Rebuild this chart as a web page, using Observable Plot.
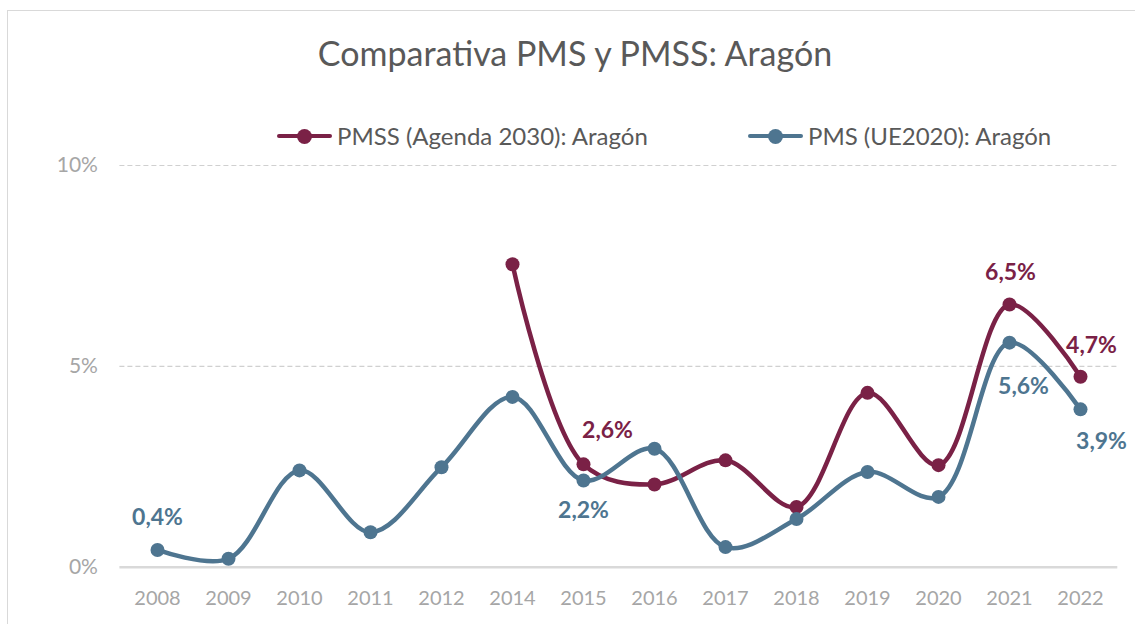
<!DOCTYPE html>
<html>
<head>
<meta charset="utf-8">
<script src="https://cdn.jsdelivr.net/npm/d3@7"></script>
<script src="https://cdn.jsdelivr.net/npm/@observablehq/plot@0.6"></script>
<style>
  html, body { margin: 0; padding: 0; background: #fff; }
  #wrap { position: relative; width: 1135px; height: 624px; overflow: hidden; font-family: Lato, "Open Sans", sans-serif; }
  #frame { position: absolute; left: 7px; top: 10px; width: 1300px; height: 800px; border-top: 1.5px solid #d9d9d9; border-left: 1.5px solid #d9d9d9; box-sizing: border-box; }
  #title { position: absolute; left: 575px; top: 33px; transform: translateX(-50%); font-size: 34px; line-height: 1.2; color: #595959; white-space: nowrap; }
  .leg { position: absolute; top: 121px; display: flex; align-items: flex-start; font-size: 24px; line-height: 29px; color: #595959; white-space: nowrap; }
  .sw { position: relative; width: 55px; height: 29px; margin-right: 5px; }
  .sw .ln { position: absolute; left: 0; right: 0; top: 12.5px; height: 4.5px; border-radius: 2px; }
  .sw .dt { position: absolute; left: 20px; top: 7.5px; width: 15px; height: 15px; border-radius: 50%; }
  #plot { position: absolute; left: 0; top: 0; }
</style>
</head>
<body>
<div id="wrap">
  <div id="frame"></div>
  <div id="plot"></div>
  <div id="title"></div>
  <div id="legend"></div>
</div>
<script>
// ---- data ----
const years = ["2008","2009","2010","2011","2012","2014","2015","2016","2017","2018","2019","2020","2021","2022"];
const pmsValues  = [0.43, 0.21, 2.41, 0.87, 2.49, 4.24, 2.16, 2.95, 0.50, 1.20, 2.37, 1.75, 5.59, 3.93];
const pmssValues = [null, null, null, null, null, 7.54, 2.56, 2.06, 2.66, 1.50, 4.34, 2.54, 6.54, 4.74];
const seriesNames = ["PMSS (Agenda 2030): Aragón", "PMS (UE2020): Aragón"];
const seriesColors = ["#7a2146", "#4e7590"];
const yTicks = [0, 5, 10];
const titleText = "Comparativa PMS y PMSS: Aragón";

// ---- build table ----
const pmss = years.map((y, i) => ({year: y, value: pmssValues[i], series: "PMSS"})).filter(d => d.value != null);
const pms  = years.map((y, i) => ({year: y, value: pmsValues[i], series: "PMS"}));
const fmt = v => v.toFixed(1).replace(".", ",") + "%";

// which points carry a data label, and the label offset
const labelSpecs = [
  {src: pms,  year: "2008", dx: 0,  dy: -32, color: seriesColors[1]},
  {src: pmss, year: "2015", dx: 24, dy: -34, color: seriesColors[0]},
  {src: pms,  year: "2015", dx: 0,  dy: 30,  color: seriesColors[1]},
  {src: pmss, year: "2021", dx: 1,  dy: -32, color: seriesColors[0]},
  {src: pmss, year: "2022", dx: 11, dy: -31, color: seriesColors[0]},
  {src: pms,  year: "2021", dx: 14, dy: 44,  color: seriesColors[1]},
  {src: pms,  year: "2022", dx: 21, dy: 32,  color: seriesColors[1]}
];

const labelMarks = labelSpecs.map(s => Plot.text(s.src.filter(d => d.year === s.year), {
  x: "year", y: "value", text: d => fmt(d.value), dx: s.dx, dy: s.dy,
  fill: s.color, fontWeight: "bold", fontSize: 23, fontFamily: "Lato, sans-serif"
}));

const chart = Plot.plot({
  width: 1135,
  height: 624,
  marginLeft: 119.4,
  marginRight: 17.7,
  marginTop: 165,
  marginBottom: 57.3,
  style: {background: "transparent", fontFamily: "Lato, sans-serif"},
  x: {type: "point", domain: years, padding: 0.5, label: null},
  y: {domain: [0, 10], label: null},
  marks: [
    Plot.gridY(yTicks.filter(d => d > 0), {stroke: "#d0d0d0", strokeOpacity: 1, strokeWidth: 1.2, strokeDasharray: "5,3"}),
    Plot.ruleY([0], {stroke: "#d9d9d9", strokeWidth: 2.5}),
    Plot.axisY({ticks: yTicks, tickSize: 0, tickPadding: 22, tickFormat: d => d + "%", fontSize: 21, fill: "#a6a6a6", label: null}),
    Plot.axisX({tickSize: 0, tickPadding: 24, fontSize: 20, fill: "#a6a6a6", label: null}),
    Plot.line(pmss, {x: "year", y: "value", stroke: seriesColors[0], strokeWidth: 4.5, curve: "catmull-rom"}),
    Plot.dot(pmss, {x: "year", y: "value", fill: seriesColors[0], r: 7}),
    Plot.line(pms, {x: "year", y: "value", stroke: seriesColors[1], strokeWidth: 4.5, curve: "catmull-rom"}),
    Plot.dot(pms, {x: "year", y: "value", fill: seriesColors[1], r: 7}),
    ...labelMarks
  ]
});
document.getElementById("plot").appendChild(chart);
document.getElementById("title").textContent = titleText;

// legend
const legendX = [277, 748];
const legend = document.getElementById("legend");
seriesNames.forEach((name, i) => {
  const item = document.createElement("div");
  item.className = "leg";
  item.style.left = legendX[i] + "px";
  item.innerHTML = `<div class="sw"><div class="ln" style="background:${seriesColors[i]}"></div><div class="dt" style="background:${seriesColors[i]}"></div></div><span></span>`;
  item.querySelector("span").textContent = name;
  legend.appendChild(item);
});
</script>
</body>
</html>
